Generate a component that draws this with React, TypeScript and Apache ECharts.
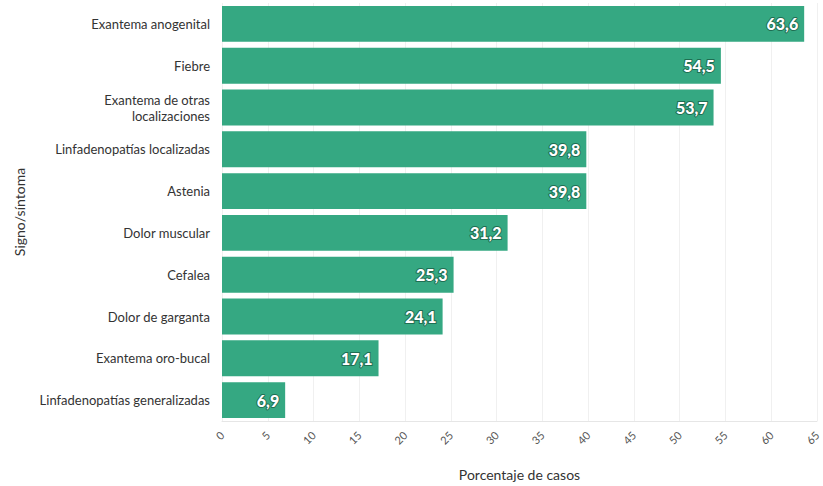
import React, { useEffect, useRef } from "react";
import * as echarts from "echarts";

const categories = [
  "Exantema anogenital",
  "Fiebre",
  "Exantema de otras\nlocalizaciones",
  "Linfadenopatías localizadas",
  "Astenia",
  "Dolor muscular",
  "Cefalea",
  "Dolor de garganta",
  "Exantema oro-bucal",
  "Linfadenopatías generalizadas",
];
const values = [63.6, 54.5, 53.7, 39.8, 39.8, 31.2, 25.3, 24.1, 17.1, 6.9];

const FONT = "Lato, 'Noto Sans', sans-serif";

export default function App() {
  const ref = useRef<HTMLDivElement>(null);
  useEffect(() => {
    const chart = echarts.init(ref.current!, undefined, { renderer: "svg" });
    chart.setOption({
      animation: false,
      grid: { left: 222, right: 3, top: 3, bottom: 64, containLabel: false },
      xAxis: {
        type: "value",
        min: 0,
        max: 65,
        interval: 5,
        name: "Porcentaje de casos",
        nameLocation: "middle",
        nameGap: 46,
        nameTextStyle: { fontFamily: FONT, fontSize: 14, color: "#333" },
        axisLine: { show: true, lineStyle: { color: "#e6e6e6" } },
        axisTick: { show: false },
        axisLabel: { rotate: 45, fontFamily: FONT, fontSize: 11, color: "#555", margin: 12 },
        splitLine: { show: true, lineStyle: { color: "#f0f0f0" } },
      },
      yAxis: {
        type: "category",
        data: categories,
        inverse: true,
        name: "Signo/síntoma",
        nameLocation: "middle",
        nameGap: 196,
        nameTextStyle: { fontFamily: FONT, fontSize: 14, color: "#333" },
        axisLine: { show: false },
        axisTick: { show: false },
        axisLabel: { fontFamily: FONT, fontSize: 13, color: "#333", margin: 12, lineHeight: 16 },
        splitLine: { show: false },
      },
      series: [
        {
          type: "bar",
          data: values,
          barCategoryGap: "14%",
          itemStyle: { color: "#35a882" },
          label: {
            show: true,
            position: "insideRight",
            formatter: (p: any) => String(p.value).replace(".", ","),
            color: "#fff",
            fontFamily: FONT,
            fontWeight: 900,
            fontSize: 16,
            textBorderColor: "#1f6e52",
            textBorderWidth: 2,
            distance: 6,
          },
        },
      ],
    });
    return () => chart.dispose();
  }, []);
  return <div ref={ref} style={{ width: 823, height: 486, position: "absolute", left: 0, top: 0 }} />;
}
